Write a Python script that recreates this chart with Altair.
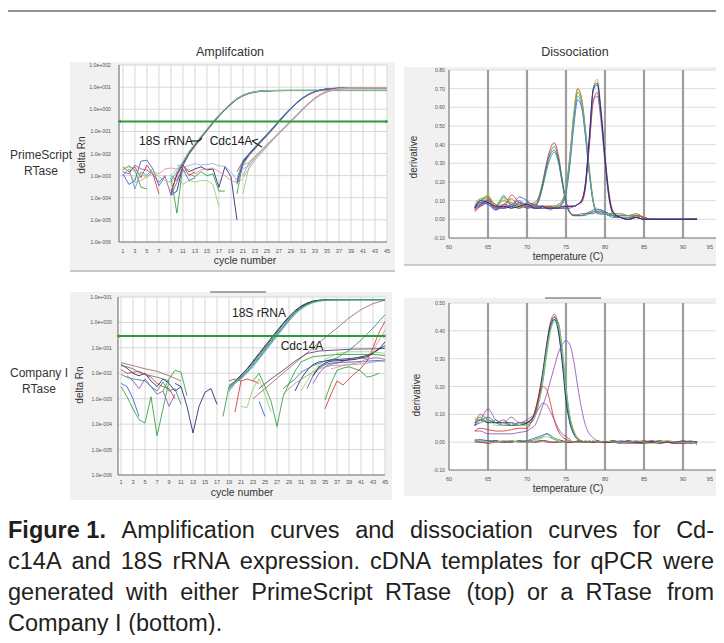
import altair as alt
import pandas as pd

OFF = 8
def px(v):
    return v - OFF

SANS = "Liberation Sans, Arial, sans-serif"

RED = "#d8322e"; GREEN = "#2e9e3e"; BLUE = "#3a5bd0"; NAVY = "#1f2470"; PURPLE = "#8d52b5"
CYAN = "#36aac6"; LGREEN = "#93d06c"; GRAY = "#9c9c9c"; PINK = "#e68f8f"; LBLUE = "#8fb2e8"
LAV = "#b79dd8"; TEAL = "#2f8a86"; OLIVE = "#b5ad36"; BROWN = "#9c6b5c"; BLACK = "#202020"
DPURPLE = "#5b3a78"; DGRAY = "#6b6b7a"; THR = "#2f9a3c"

# ---------------- amplification, PrimeScript (top) ----------------
AMP_XTICKS = list(range(1, 46, 2))
TOP_YTICKS = [1e2, 1e1, 1e0, 1e-1, 1e-2, 1e-3, 1e-4, 1e-5, 1e-6]
TOP_YLABELS = ["1.0e+002", "1.0e+001", "1.0e+000", "1.0e-001", "1.0e-002",
               "1.0e-003", "1.0e-004", "1.0e-005", "1.0e-006"]
TOP_THRESHOLD = 0.28

CYC_18S_TOP = [9, 10, 11, 12, 13, 14, 15, 16, 17, 18, 19, 20, 21, 22, 23, 24, 26, 28, 32, 36, 40, 45]
TOP_18S = [
    ("s1", NAVY,   [1.5e-4, 1.2e-3, 3.6e-3, 1.1e-2, 2.5e-2, 5.5e-2, 0.12, 0.26, 0.52, 1.0, 1.8, 3.0, 4.3, 5.4, 6.2, 6.7, 7.0, 7.1, 7.1, 7.1, 7.1, 7.1]),
    ("s2", RED,    [2e-4, 1e-3, 3.2e-3, 1.0e-2, 2.3e-2, 5.2e-2, 0.115, 0.25, 0.5, 0.97, 1.75, 2.9, 4.2, 5.3, 6.1, 6.6, 6.9, 7.0, 7.0, 7.0, 7.0, 7.0]),
    ("s3", GREEN,  [8e-4, 2e-5, 3e-3, 9.5e-3, 2.2e-2, 5e-2, 0.11, 0.24, 0.49, 0.95, 1.7, 2.85, 4.1, 5.2, 6.0, 6.5, 6.9, 7.0, 7.1, 7.1, 7.1, 7.1]),
    ("s4", PURPLE, [1.3e-4, 5e-4, 2.8e-3, 9e-3, 2.1e-2, 4.8e-2, 0.105, 0.23, 0.47, 0.92, 1.65, 2.8, 4.0, 5.1, 5.9, 6.5, 6.9, 7.0, 7.0, 7.0, 7.0, 7.0]),
    ("s5", CYAN,   [6e-4, 1.5e-3, 4e-3, 1.2e-2, 2.7e-2, 5.8e-2, 0.125, 0.27, 0.54, 1.03, 1.85, 3.05, 4.35, 5.45, 6.25, 6.75, 7.1, 7.2, 7.2, 7.2, 7.2, 7.2]),
    ("s6", LGREEN, [1e-3, 2e-3, 4.5e-3, 1.25e-2, 2.8e-2, 6e-2, 0.13, 0.28, 0.56, 1.06, 1.9, 3.1, 4.4, 5.5, 6.3, 6.8, 7.1, 7.2, 7.2, 7.2, 7.2, 7.2]),
]

CYC_CDC_TOP_A = [20, 21, 22, 23, 24, 25, 26, 27, 28, 29, 30, 31, 32, 33, 34, 35, 37, 40, 45]
TOP_CDC_A = [
    ("ca1", RED,    [1.5e-3, 4.5e-3, 9e-3, 1.8e-2, 3.6e-2, 7e-2, 0.14, 0.29, 0.58, 1.1, 2.0, 3.3, 4.8, 6.3, 7.5, 8.3, 9.0, 9.2, 9.3]),
    ("ca2", GREEN,  [1.5e-4, 3.8e-3, 8.5e-3, 1.7e-2, 3.4e-2, 6.6e-2, 0.13, 0.27, 0.55, 1.05, 1.95, 3.2, 4.7, 6.2, 7.4, 8.2, 8.9, 9.1, 9.2]),
    ("ca3", NAVY,   [5e-4, 4e-3, 9.5e-3, 1.9e-2, 3.8e-2, 7.3e-2, 0.145, 0.3, 0.6, 1.13, 2.05, 3.35, 4.85, 6.35, 7.5, 8.3, 9.0, 9.1, 9.2]),
    ("ca4", CYAN,   [7e-4, 5e-3, 1e-2, 2e-2, 4e-2, 7.6e-2, 0.15, 0.31, 0.62, 1.16, 2.1, 3.4, 4.9, 6.4, 7.6, 8.4, 9.2, 9.4, 9.6]),
    ("ca5", PURPLE, [4e-4, 3e-3, 8e-3, 1.6e-2, 3.2e-2, 6.3e-2, 0.125, 0.26, 0.53, 1.02, 1.9, 3.15, 4.6, 6.1, 7.3, 8.1, 8.9, 9.0, 9.1]),
]

CYC_CDC_TOP_B = [21, 22, 23, 24, 25, 26, 27, 28, 29, 30, 31, 32, 33, 34, 35, 36, 37, 38, 40, 45]
TOP_CDC_B = [
    ("cb1", GRAY,   [1e-3, 3.8e-3, 7e-3, 1.3e-2, 2.5e-2, 4.6e-2, 8.5e-2, 0.16, 0.3, 0.56, 1.05, 1.9, 3.2, 4.8, 6.3, 7.5, 8.3, 8.8, 9.2, 9.4]),
    ("cb2", LBLUE,  [2e-3, 3e-3, 6e-3, 1.1e-2, 2.2e-2, 4.2e-2, 8e-2, 0.15, 0.28, 0.53, 1.0, 1.8, 3.1, 4.6, 6.1, 7.3, 8.2, 8.7, 9.1, 9.3]),
    ("cb3", LGREEN, [1.5e-4, 2.5e-3, 6.5e-3, 1.2e-2, 2.4e-2, 4.5e-2, 8.4e-2, 0.16, 0.3, 0.57, 1.07, 1.95, 3.3, 4.9, 6.4, 7.6, 8.4, 8.9, 9.3, 9.6]),
    ("cb4", LAV,    [8e-4, 2e-3, 5e-3, 1e-2, 2e-2, 4e-2, 7.5e-2, 0.14, 0.27, 0.5, 0.95, 1.75, 3.0, 4.5, 6.0, 7.2, 8.1, 8.6, 9.0, 9.2]),
    ("cb5", PINK,   [3e-3, 4e-3, 7.5e-3, 1.4e-2, 2.6e-2, 4.8e-2, 8.8e-2, 0.165, 0.31, 0.58, 1.08, 1.95, 3.3, 4.9, 6.4, 7.6, 8.4, 8.9, 9.2, 9.3]),
]

TOP_NOISE = [
    ("n1", BLUE,   [1, 2, 3, 4, 5, 6, 7, 8], [1.2e-3, 4e-4, 6e-4, 4.5e-3, 5e-3, 2e-3, 3.5e-4, 9e-4]),
    ("n2", RED,    [1, 2, 3, 4, 5, 6, 7], [2.5e-3, 1.5e-3, 2.5e-3, 8e-4, 3e-3, 1.2e-3, 1.5e-4]),
    ("n3", GREEN,  [1, 2, 3, 4, 5], [1.8e-3, 2.8e-3, 1.8e-3, 3e-4, 2.5e-4]),
    ("n4", CYAN,   [1, 2, 3, 4, 5, 6], [1e-3, 2e-3, 2.5e-4, 1.5e-3, 1e-3, 2.2e-3]),
    ("n5", PURPLE, [1, 2, 3, 4, 5, 6, 7, 8, 9], [1.5e-3, 1.2e-3, 3e-3, 2e-3, 1.8e-3, 1.1e-3, 5e-4, 1e-3, 1.3e-4]),
    ("n6", PINK,   [2, 3, 4, 5, 6, 7, 8, 9, 10, 11], [1.6e-3, 5e-4, 6e-4, 9e-4, 1.5e-3, 1.2e-3, 2e-3, 2.2e-3, 2e-3, 2.5e-3]),
    ("n7", LGREEN, [1, 2, 3, 4, 5, 6, 7, 8, 9, 10, 11, 12, 13, 14, 15, 16, 17],
     [2e-3, 2.5e-3, 1.5e-3, 1.2e-3, 8e-4, 1.4e-3, 9e-4, 6e-4, 5e-4, 1e-3, 4e-4, 6e-4, 5e-4, 6e-4, 6e-4, 4e-4, 4e-5]),
    ("n8", NAVY,   [9, 10, 11, 12, 13, 14, 15, 16, 17, 18, 19, 20],
     [1.3e-4, 2e-4, 3e-3, 1.5e-3, 2e-3, 2.5e-3, 1.8e-3, 2e-3, 3e-4, 2.5e-3, 9e-4, 1e-5]),
    ("n9", LBLUE,  [10, 11, 12, 13, 14, 15, 16, 17, 18, 19, 20],
     [3e-3, 2.5e-3, 2.8e-3, 3.5e-3, 3e-3, 3.2e-3, 3.5e-3, 2.8e-3, 2.6e-3, 1.5e-3, 6e-4]),
    ("n10", GREEN, [12, 13, 14, 15, 16, 17, 18], [1.2e-3, 9e-4, 1.5e-3, 1e-3, 1.2e-3, 2e-4, 2e-4]),
    ("n11", PINK,  [11, 12, 13, 14, 15, 16, 17, 18, 19, 20, 21],
     [1.5e-3, 2e-3, 1.2e-3, 1.8e-3, 2e-3, 2.2e-3, 1.5e-3, 1e-3, 6e-4, 5e-4, 7e-4]),
    ("n12", BLUE,  [9, 10, 11, 12, 13], [1e-3, 6e-4, 2e-3, 6e-4, 8e-4]),
    ("n13", RED,   [11, 12, 13], [3e-3, 1e-3, 1.5e-3]),
]

# ---------------- amplification, Company I (bottom) ----------------
BOT_YTICKS = [1e1, 1e0, 1e-1, 1e-2, 1e-3, 1e-4, 1e-5, 1e-6]
BOT_YLABELS = ["1.0e+001", "1.0e+000", "1.0e-001", "1.0e-002", "1.0e-003", "1.0e-004", "1.0e-005", "1.0e-006"]
BOT_THRESHOLD = 0.29

CYC_18S_BOT = [19, 20, 21, 22, 23, 24, 25, 26, 27, 28, 29, 30, 31, 32, 33, 34, 36, 40, 45]
BOT_18S = [
    ("b1", BLACK, [2.5e-3, 4.5e-3, 8e-3, 1.5e-2, 3e-2, 6e-2, 0.12, 0.24, 0.47, 0.92, 1.7, 2.9, 4.4, 5.8, 6.9, 7.5, 7.8, 7.9, 7.9]),
    ("b2", NAVY,  [3e-3, 5e-3, 8.5e-3, 1.4e-2, 2.7e-2, 5.3e-2, 0.105, 0.21, 0.42, 0.83, 1.55, 2.7, 4.1, 5.5, 6.7, 7.4, 7.8, 7.9, 7.9]),
    ("b3", TEAL,  [2e-3, 4e-3, 6.5e-3, 1.1e-2, 2.1e-2, 4.1e-2, 8.2e-2, 0.165, 0.33, 0.65, 1.25, 2.3, 3.6, 5.0, 6.3, 7.1, 7.7, 7.8, 7.8]),
    ("b4", CYAN,  [3.5e-3, 4.5e-3, 6e-3, 1e-2, 1.9e-2, 3.7e-2, 7.4e-2, 0.15, 0.3, 0.6, 1.15, 2.15, 3.4, 4.8, 6.1, 7.0, 7.6, 7.8, 7.8]),
    ("b5", LBLUE, [2.8e-3, 5e-3, 7e-3, 1.05e-2, 1.8e-2, 3.5e-2, 7e-2, 0.14, 0.28, 0.56, 1.1, 2.05, 3.3, 4.7, 6.0, 6.9, 7.6, 7.8, 7.8]),
]
BOT_18S_EXTRA = [
    ("b6", GREEN, [18, 19, 20, 21, 22, 23, 24, 25, 26, 27, 28, 29, 30, 31, 32, 33, 34, 36, 40, 45],
     [2e-4, 3e-3, 5e-3, 7e-3, 1.2e-2, 2.3e-2, 4.5e-2, 9e-2, 0.18, 0.36, 0.7, 1.35, 2.45, 3.8, 5.2, 6.4, 7.2, 7.7, 7.8, 7.8]),
]

BOT_CDC = [
    ("d1", BROWN,   [23, 25, 27, 29, 31, 33, 35, 37, 39, 41, 43, 45], [1e-3, 2.5e-3, 6.3e-3, 1.6e-2, 4e-2, 0.1, 0.25, 0.6, 1.5, 3.2, 5.5, 7.5]),
    ("d2", DPURPLE, [24, 26, 28, 30, 32, 34, 36, 38, 40, 42, 45], [2.5e-3, 6e-3, 1.3e-2, 3e-2, 6e-2, 7.5e-2, 8e-2, 8.5e-2, 9e-2, 9e-2, 9.5e-2]),
    ("d3", TEAL,    [28, 30, 31, 33, 35, 37, 39, 41, 43, 45], [2.5e-3, 6e-3, 1.1e-2, 2e-2, 3e-2, 4e-2, 8e-2, 0.2, 0.6, 2.0]),
    ("d4", RED,     [35, 36, 37, 38, 39, 40, 41, 42, 43, 44, 45], [4e-4, 1.5e-3, 5e-3, 3.5e-3, 6e-3, 1e-2, 1.6e-2, 3e-2, 0.1, 0.4, 1.1]),
    ("d5", GREEN,   [35, 36, 37, 38, 39, 40, 41, 42, 43, 44], [9e-4, 4e-3, 1.3e-2, 1.6e-2, 1.8e-2, 1.5e-2, 1.2e-2, 7e-3, 8e-3, 1e-2]),
    ("d6", GREEN,   [23, 24, 25, 26, 27, 28, 29, 30, 31, 33, 35, 37, 39, 41, 43, 45],
     [5e-3, 1e-2, 3e-3, 8e-4, 8e-5, 1.2e-3, 4e-3, 1.2e-2, 2.8e-2, 4.5e-2, 5e-2, 5.5e-2, 5.5e-2, 5.5e-2, 5.5e-2, 5e-2]),
    ("d7", NAVY,    [30, 31, 32, 33, 34, 35, 36, 37, 38, 40, 42, 45], [2e-3, 6e-3, 1.3e-2, 2.2e-2, 2.8e-2, 3e-2, 3.3e-2, 3.5e-2, 3.6e-2, 4e-2, 5e-2, 0.12]),
    ("d8", BLUE,    [32, 33, 34, 35, 36, 37, 38, 40, 42, 44, 45], [2.5e-3, 8e-3, 1.6e-2, 2.2e-2, 2.5e-2, 2.6e-2, 2.7e-2, 2.8e-2, 3e-2, 3.2e-2, 3e-2]),
    ("d9", PURPLE,  [33, 34, 35, 36, 37, 38, 39, 40, 41, 42, 43, 44, 45],
     [4e-3, 1e-2, 1.8e-2, 2.3e-2, 2.5e-2, 3e-2, 3.5e-2, 4e-2, 4.2e-2, 3.5e-2, 4e-2, 4e-2, 3.5e-2]),
    ("d10", GRAY,   [28, 30, 32, 34, 36, 38, 40, 42, 44, 45], [1.5e-3, 4e-3, 8e-3, 1.5e-2, 2e-2, 2.1e-2, 2.2e-2, 2.5e-2, 3e-2, 3e-2]),
    ("d11", PINK,   [36, 37, 38, 39, 40, 41, 42, 43, 44, 45], [1.5e-2, 1.7e-2, 2e-2, 2.2e-2, 2.5e-2, 2.7e-2, 4e-2, 8e-2, 0.2, 0.5]),
    ("d12", BLACK,  [33, 34, 35, 36, 38, 40, 42, 43, 44, 45], [8e-3, 1.8e-2, 2.5e-2, 3e-2, 3.2e-2, 3.5e-2, 4.5e-2, 6e-2, 9e-2, 0.17]),
    ("d13", LGREEN, [31, 33, 35, 37, 39, 41, 43, 45], [2e-3, 1.2e-2, 3.5e-2, 6e-2, 7e-2, 7e-2, 7e-2, 6e-2]),
]

BOT_NOISE = [
    ("e1", BROWN,  [1, 3, 5, 7, 9, 11], [2.6e-2, 2e-2, 1.5e-2, 1.2e-2, 8e-3, 5e-3]),
    ("e2", NAVY,   [1, 2, 3, 4, 5, 6, 7, 8, 9, 10, 11], [2.2e-2, 1.6e-2, 1e-2, 8e-3, 1e-2, 5e-3, 3e-3, 6e-3, 4e-3, 2e-3, 3e-3]),
    ("e3", RED,    [1, 2, 3, 4, 5, 6, 7, 8, 9, 10], [1.4e-2, 1e-2, 1.1e-2, 1.2e-2, 9e-3, 7e-3, 4e-3, 3e-3, 2.5e-3, 1e-3]),
    ("e4", GREEN,  [1, 2, 3, 4, 5, 6, 7, 8, 9], [3e-3, 1.2e-3, 4e-4, 1.5e-4, 1.1e-4, 1.2e-3, 3.5e-5, 4e-4, 5e-3]),
    ("e5", BLUE,   [1, 2, 3, 4], [4e-3, 3e-3, 1e-3, 2e-4]),
    ("e6", PURPLE, [2, 3, 4, 5, 6, 7, 8, 9, 10], [8e-3, 5e-3, 2.5e-3, 6e-3, 3e-3, 1.5e-3, 2e-3, 5e-4, 1.5e-3]),
    ("e7", TEAL,   [1, 2, 3, 4, 5, 6, 7, 8, 9, 10, 11], [9e-3, 7e-3, 6e-3, 5.5e-3, 5e-3, 3e-3, 2e-3, 4.5e-3, 2e-3, 2.5e-3, 6e-4]),
    ("e8", NAVY,   [10, 11, 12, 13, 14, 15, 16, 17], [4e-3, 3e-3, 5e-4, 4.5e-5, 5e-4, 1.8e-3, 2.5e-3, 6e-4]),
    ("e9", RED,    [19, 20, 21, 22, 23, 24], [5e-3, 6e-3, 5e-3, 6e-3, 5e-3, 4e-3]),
    ("e10", RED,   [20, 21], [3e-4, 5e-3]),
    ("e11", LGREEN, [21, 22, 23, 24, 25, 26], [5e-4, 4.5e-4, 2.5e-3, 6e-3, 1.5e-3, 3e-4]),
    ("e12", BLUE,  [24, 25], [8e-4, 2e-4]),
    ("e13", GREEN, [8, 9, 10, 11, 12], [2e-3, 6e-3, 1.3e-2, 1.1e-2, 1.3e-3]),
    ("e14", DGRAY, [1, 2, 3, 4, 5, 6, 7, 8, 9], [2e-2, 1.8e-2, 1.5e-2, 1.1e-2, 9e-3, 8e-3, 7e-3, 6e-3, 5e-3]),
]

# ---------------- dissociation, PrimeScript (top) ----------------
DIS_XTICKS = [60, 65, 70, 75, 80, 85, 90, 95]
DIS_VGRID = [65, 70, 75, 80, 85, 90]
TOPD_YTICKS = [-0.1, 0.0, 0.1, 0.2, 0.3, 0.4, 0.5, 0.6, 0.7, 0.8]
TOPD_YLABELS = ["-0.10", "0.00", "0.10", "0.20", "0.30", "0.40", "0.50", "0.60", "0.70", "0.80"]
T_TOP = [63.3, 64, 65, 66, 67, 68, 69, 70, 71,
         71.5, 72, 72.5, 73, 73.5, 74, 74.5, 75, 75.5, 76, 76.5, 77, 77.5, 78, 78.5, 79, 79.5, 80, 80.5, 81,
         82, 83, 84, 85, 86, 88, 90, 91.8]
TOPD = [
    ("a1", RED,   [0.05, 0.08, 0.10, 0.06, 0.08, 0.11, 0.07, 0.08, 0.09,
                   0.12, 0.20, 0.30, 0.38, 0.41, 0.35, 0.22, 0.10, 0.04, 0.025, 0.025, 0.03, 0.03, 0.035, 0.04, 0.04, 0.04, 0.035, 0.03, 0.02,
                   0.01, 0.01, 0.02, 0.01, 0.0, 0.0, 0.0, 0.005]),
    ("a2", GREEN, [0.07, 0.10, 0.12, 0.07, 0.12, 0.08, 0.06, 0.09, 0.08,
                   0.11, 0.19, 0.29, 0.36, 0.39, 0.33, 0.21, 0.09, 0.035, 0.02, 0.02, 0.02, 0.03, 0.03, 0.04, 0.05, 0.05, 0.04, 0.03, 0.02,
                   0.01, 0.01, 0.02, 0.01, 0.0, 0.0, 0.0, 0.0]),
    ("a3", BLUE,  [0.06, 0.09, 0.08, 0.05, 0.07, 0.07, 0.12, 0.10, 0.07,
                   0.10, 0.18, 0.28, 0.35, 0.37, 0.32, 0.20, 0.09, 0.035, 0.02, 0.02, 0.02, 0.03, 0.04, 0.05, 0.055, 0.05, 0.04, 0.03, 0.02,
                   0.01, 0.0, 0.01, 0.0, 0.0, 0.0, 0.0, 0.0]),
    ("a4", TEAL,  [0.08, 0.07, 0.09, 0.06, 0.06, 0.07, 0.09, 0.06, 0.07,
                   0.10, 0.17, 0.26, 0.33, 0.36, 0.31, 0.20, 0.09, 0.035, 0.02, 0.02, 0.02, 0.02, 0.03, 0.03, 0.04, 0.04, 0.03, 0.02, 0.01,
                   0.01, 0.01, 0.01, 0.0, 0.0, 0.0, 0.0, 0.0]),
    ("b1", RED,   [0.04, 0.07, 0.11, 0.07, 0.06, 0.13, 0.09, 0.07, 0.08,
                   0.07, 0.07, 0.07, 0.07, 0.07, 0.08, 0.10, 0.17, 0.34, 0.56, 0.70, 0.65, 0.48, 0.27, 0.10, 0.04, 0.03, 0.03, 0.03, 0.03,
                   0.03, 0.02, 0.02, 0.01, 0.0, 0.0, 0.0, 0.005]),
    ("b2", GREEN, [0.07, 0.09, 0.12, 0.07, 0.10, 0.08, 0.07, 0.08, 0.07,
                   0.07, 0.06, 0.06, 0.07, 0.07, 0.07, 0.09, 0.16, 0.32, 0.54, 0.68, 0.63, 0.46, 0.25, 0.09, 0.04, 0.03, 0.03, 0.03, 0.02,
                   0.02, 0.02, 0.03, 0.01, 0.0, 0.0, 0.0, 0.0]),
    ("b3", BLUE,  [0.06, 0.08, 0.10, 0.08, 0.06, 0.07, 0.08, 0.06, 0.07,
                   0.07, 0.07, 0.06, 0.06, 0.06, 0.07, 0.08, 0.14, 0.29, 0.50, 0.64, 0.60, 0.44, 0.24, 0.09, 0.03, 0.03, 0.03, 0.02, 0.02,
                   0.02, 0.02, 0.02, 0.01, 0.0, 0.0, 0.0, 0.0]),
    ("b4", OLIVE, [0.07, 0.10, 0.13, 0.06, 0.11, 0.09, 0.06, 0.08, 0.07,
                   0.07, 0.07, 0.07, 0.06, 0.07, 0.08, 0.10, 0.17, 0.34, 0.57, 0.70, 0.64, 0.47, 0.26, 0.10, 0.04, 0.03, 0.03, 0.03, 0.03,
                   0.03, 0.02, 0.03, 0.01, 0.0, 0.0, 0.0, 0.0]),
    ("b5", CYAN,  [0.06, 0.11, 0.09, 0.06, 0.13, 0.07, 0.08, 0.07, 0.06,
                   0.06, 0.06, 0.06, 0.06, 0.06, 0.07, 0.09, 0.15, 0.31, 0.52, 0.66, 0.61, 0.45, 0.25, 0.09, 0.04, 0.03, 0.03, 0.02, 0.02,
                   0.02, 0.02, 0.02, 0.01, 0.0, 0.0, 0.0, 0.0]),
    ("c1", OLIVE, [0.09, 0.11, 0.12, 0.08, 0.12, 0.09, 0.08, 0.07, 0.07,
                   0.06, 0.07, 0.07, 0.07, 0.07, 0.07, 0.07, 0.07, 0.07, 0.07, 0.08, 0.10, 0.19, 0.43, 0.70, 0.75, 0.59, 0.35, 0.15, 0.05,
                   0.01, 0.01, 0.02, 0.01, 0.0, 0.0, 0.0, 0.0]),
    ("c2", RED,   [0.05, 0.07, 0.09, 0.06, 0.08, 0.07, 0.06, 0.07, 0.06,
                   0.06, 0.06, 0.07, 0.07, 0.06, 0.06, 0.06, 0.07, 0.07, 0.07, 0.08, 0.09, 0.17, 0.40, 0.63, 0.68, 0.55, 0.33, 0.14, 0.04,
                   0.01, 0.0, 0.02, 0.01, 0.0, 0.0, 0.0, 0.0]),
    ("c3", BLUE,  [0.06, 0.08, 0.09, 0.05, 0.07, 0.06, 0.09, 0.08, 0.07,
                   0.07, 0.07, 0.06, 0.06, 0.06, 0.06, 0.06, 0.06, 0.06, 0.07, 0.08, 0.10, 0.20, 0.45, 0.69, 0.72, 0.56, 0.32, 0.12, 0.03,
                   0.01, 0.0, 0.01, 0.0, 0.0, 0.0, 0.0, 0.0]),
    ("c4", PURPLE, [0.07, 0.09, 0.08, 0.06, 0.06, 0.08, 0.10, 0.07, 0.06,
                    0.06, 0.06, 0.06, 0.05, 0.06, 0.06, 0.06, 0.06, 0.07, 0.07, 0.08, 0.10, 0.18, 0.41, 0.64, 0.66, 0.52, 0.30, 0.12, 0.04,
                    0.01, 0.0, 0.01, 0.0, 0.0, 0.0, 0.0, 0.0]),
    ("c5", NAVY,  [0.06, 0.10, 0.09, 0.07, 0.07, 0.06, 0.07, 0.08, 0.06,
                   0.06, 0.07, 0.06, 0.06, 0.06, 0.06, 0.07, 0.07, 0.07, 0.07, 0.08, 0.10, 0.19, 0.44, 0.70, 0.73, 0.57, 0.33, 0.13, 0.04,
                   0.01, 0.0, 0.01, 0.0, 0.0, 0.0, 0.0, 0.0]),
]

# ---------------- dissociation, Company I (bottom) ----------------
BOTD_YTICKS = [-0.1, 0.0, 0.1, 0.2, 0.3, 0.4, 0.5]
BOTD_YLABELS = ["-0.10", "0.00", "0.10", "0.20", "0.30", "0.40", "0.50"]
T_BOT = [63.3, 64, 65, 66, 67, 68, 69, 70,
         70.5, 71, 71.5, 72, 72.5, 73, 73.5, 74, 74.5, 75, 75.5, 76, 76.5, 77, 77.5, 78, 78.5, 79,
         80, 81, 82, 83, 84, 85, 86, 87, 88, 89, 90, 91, 91.8]
BOTD = [
    ("m1", RED,   [0.06, 0.10, 0.08, 0.07, 0.08, 0.06, 0.07, 0.07,
                   0.08, 0.11, 0.17, 0.25, 0.35, 0.43, 0.46, 0.42, 0.31, 0.18, 0.09, 0.04, 0.015, 0.005, 0.0, 0.0, 0.0, 0.0,
                   0.0, 0.0, 0.0, 0.005, 0.0, -0.005, 0.0, 0.0, 0.005, 0.0, -0.005, 0.0, 0.0]),
    ("m2", BLUE,  [0.06, 0.07, 0.08, 0.07, 0.07, 0.06, 0.06, 0.07,
                   0.08, 0.10, 0.16, 0.24, 0.34, 0.42, 0.45, 0.41, 0.30, 0.16, 0.07, 0.03, 0.01, 0.0, 0.0, 0.0, 0.0, 0.0,
                   0.0, 0.0, -0.005, 0.0, 0.0, 0.0, 0.005, 0.0, 0.0, 0.0, 0.0, -0.005, 0.0]),
    ("m3", GREEN, [0.07, 0.09, 0.07, 0.08, 0.06, 0.07, 0.06, 0.07,
                   0.07, 0.09, 0.14, 0.21, 0.31, 0.40, 0.44, 0.43, 0.34, 0.20, 0.09, 0.035, 0.01, 0.0, 0.0, 0.0, 0.0, 0.0,
                   0.0, 0.0, 0.0, 0.0, 0.005, 0.0, 0.0, 0.0, 0.0, 0.0, 0.0, 0.0, -0.005]),
    ("m4", NAVY,  [0.06, 0.08, 0.07, 0.07, 0.07, 0.07, 0.06, 0.07,
                   0.08, 0.10, 0.16, 0.24, 0.34, 0.42, 0.44, 0.40, 0.29, 0.15, 0.07, 0.03, 0.01, 0.0, 0.0, 0.0, 0.0, 0.0,
                   0.0, 0.005, 0.0, 0.0, 0.0, 0.0, 0.0, 0.005, 0.0, 0.0, 0.0, 0.0, 0.0]),
    ("m5", TEAL,  [0.08, 0.08, 0.09, 0.07, 0.06, 0.06, 0.07, 0.06,
                   0.07, 0.10, 0.15, 0.23, 0.33, 0.41, 0.45, 0.42, 0.32, 0.18, 0.08, 0.03, 0.01, 0.0, 0.0, 0.0, 0.0, 0.0,
                   0.0, 0.0, 0.0, 0.0, 0.0, 0.005, 0.0, 0.0, 0.0, -0.005, 0.0, 0.0, 0.0]),
    ("m6", LGREEN, [0.09, 0.07, 0.08, 0.06, 0.06, 0.07, 0.06, 0.06,
                    0.07, 0.09, 0.14, 0.22, 0.32, 0.40, 0.43, 0.42, 0.33, 0.19, 0.09, 0.04, 0.01, 0.0, 0.0, 0.0, 0.0, 0.0,
                    0.0, 0.0, 0.0, 0.005, 0.0, 0.0, 0.0, 0.0, 0.0, 0.0, 0.005, 0.0, 0.0]),
    ("p1", PURPLE, [0.04, 0.04, 0.03, 0.03, 0.03, 0.03, 0.035, 0.04,
                    0.05, 0.06, 0.09, 0.13, 0.17, 0.22, 0.27, 0.32, 0.35, 0.365, 0.35, 0.29, 0.20, 0.12, 0.06, 0.03, 0.015, 0.005,
                    0.0, 0.0, 0.0, 0.0, 0.0, 0.0, 0.0, 0.0, 0.0, 0.0, 0.0, 0.0, 0.0]),
    ("p2", PURPLE, [0.07, 0.08, 0.12, 0.08, 0.07, 0.09, 0.07, 0.08,
                    0.09, 0.10, 0.12, 0.14, 0.135, 0.11, 0.08, 0.05, 0.03, 0.02, 0.01, 0.0, 0.0, 0.0, 0.0, 0.0, 0.0, 0.0,
                    0.0, 0.0, 0.0, 0.0, 0.0, 0.0, 0.0, 0.0, 0.0, 0.0, 0.0, 0.0, 0.0]),
    ("r2", RED,   [0.04, 0.05, 0.045, 0.04, 0.04, 0.045, 0.05, 0.05,
                   0.07, 0.11, 0.16, 0.20, 0.19, 0.14, 0.08, 0.04, 0.02, 0.01, 0.005, 0.0, 0.0, 0.0, 0.0, 0.0, 0.0, 0.0,
                   0.0, 0.0, 0.0, 0.0, 0.0, 0.0, 0.0, 0.0, 0.0, 0.0, 0.0, 0.0, 0.0]),
    ("f1", GREEN, [0.01, 0.005, 0.005, 0.0, 0.005, 0.0, 0.005, 0.005,
                   0.005, 0.01, 0.015, 0.02, 0.03, 0.025, 0.015, 0.01, 0.005, 0.0, 0.0, 0.0, 0.0, 0.005, 0.0, 0.0, 0.005, 0.0,
                   0.0, 0.005, 0.0, 0.0, 0.0, -0.005, 0.0, 0.005, 0.0, -0.005, 0.0, 0.005, -0.01]),
    ("f2", BLUE,  [0.005, 0.01, 0.005, 0.005, 0.0, 0.005, 0.0, 0.005,
                   0.01, 0.015, 0.02, 0.025, 0.03, 0.02, 0.01, 0.005, 0.0, 0.0, 0.0, 0.0, 0.0, 0.0, 0.0, 0.005, 0.0, 0.0,
                   0.0, 0.0, 0.005, 0.0, -0.005, 0.0, 0.005, 0.0, 0.0, -0.005, 0.0, 0.0, 0.0]),
    ("f3", NAVY,  [0.005, 0.0, 0.0, 0.005, 0.0, 0.0, 0.005, 0.0,
                   0.0, 0.0, 0.005, 0.005, 0.005, 0.0, 0.0, 0.0, 0.005, 0.0, 0.0, 0.0, 0.005, 0.0, 0.0, 0.0, 0.0, 0.005,
                   0.0, 0.0, 0.0, 0.005, 0.0, 0.0, 0.0, -0.005, 0.0, 0.0, 0.005, 0.0, 0.0]),
    ("f4", RED,   [0.0, 0.0, -0.005, 0.0, 0.0, 0.005, 0.0, 0.0,
                   0.005, 0.0, 0.0, 0.005, 0.0, 0.0, 0.0, 0.0, 0.0, 0.005, 0.0, 0.0, 0.0, 0.0, 0.005, 0.0, 0.0, 0.0,
                   0.0, 0.005, 0.0, -0.005, 0.0, 0.005, 0.0, 0.0, 0.0, 0.0, -0.005, 0.0, 0.0]),
    ("f5", LGREEN, [0.005, 0.005, 0.0, 0.0, 0.005, 0.005, 0.0, 0.0,
                    0.0, 0.005, 0.01, 0.015, 0.02, 0.015, 0.01, 0.005, 0.0, 0.0, 0.005, 0.0, 0.0, 0.0, 0.0, 0.0, 0.005, 0.0,
                    0.005, 0.0, 0.0, 0.0, 0.005, 0.0, -0.005, 0.0, 0.005, 0.0, 0.0, 0.0, -0.005]),
]

CAPTION_BOLD = "Figure 1."
CAPTION_L1 = "Amplification curves and dissociation curves for Cd-"
CAPTION_L2 = "c14A and 18S rRNA expression. cDNA templates for qPCR were"
CAPTION_L3 = "generated with either PrimeScript RTase (top) or a RTase from"
CAPTION_L4 = "Company I (bottom)."

# Arial / Liberation Sans advance widths (per 1000 em), used only to justify the caption
ARIAL_W = {' ': 278, '(': 333, ')': 333, ',': 278, '-': 333, '.': 278, ':': 278,
           'A': 667, 'B': 667, 'C': 722, 'D': 722, 'E': 667, 'F': 611, 'G': 778, 'H': 722, 'I': 278,
           'J': 500, 'K': 667, 'L': 556, 'M': 833, 'N': 722, 'O': 778, 'P': 667, 'Q': 778, 'R': 722,
           'S': 667, 'T': 611, 'U': 722, 'V': 667, 'W': 944, 'X': 667, 'Y': 667, 'Z': 611,
           'a': 556, 'b': 556, 'c': 500, 'd': 556, 'e': 556, 'f': 278, 'g': 556, 'h': 556, 'i': 222,
           'j': 222, 'k': 500, 'l': 222, 'm': 833, 'n': 556, 'o': 556, 'p': 556, 'q': 556, 'r': 333,
           's': 500, 't': 278, 'u': 556, 'v': 500, 'w': 722, 'x': 500, 'y': 500, 'z': 500}
ARIAL_BOLD_W = {' ': 278, '.': 278, '1': 556, 'F': 611, 'i': 278, 'g': 611, 'u': 611, 'r': 389, 'e': 556}
for _d in "0123456789":
    ARIAL_W[_d] = 556


# ---------------- helpers ----------------
def dummy():
    return pd.DataFrame({"k": [0]})


def label(text, x, y, size=12, font=SANS, weight="normal", color="#333333", align="center", angle=0):
    return alt.Chart(dummy()).mark_text(
        text=text, font=font, fontSize=size, fontWeight=weight, color=color,
        align=align, baseline="middle", angle=angle,
    ).encode(x=alt.value(px(x)), y=alt.value(px(y)))


def box(x0, y0, x1, y1, fill):
    return alt.Chart(dummy()).mark_rect(fill=fill).encode(
        x=alt.value(px(x0)), x2=alt.value(px(x1)), y=alt.value(px(y0)), y2=alt.value(px(y1)))


def seg(x0, y0, x1, y1, color="#222222", w=1.0):
    return alt.Chart(dummy()).mark_rule(color=color, strokeWidth=w).encode(
        x=alt.value(px(x0)), x2=alt.value(px(x1)), y=alt.value(px(y0)), y2=alt.value(px(y1)))


def text_width(s, size, table):
    return sum(table.get(ch, 556) for ch in s) * size / 1000.0


def justified(tokens, x0, x1, y, size, bold_size):
    """tokens: list of (word, bold). Spread words so that the line fills x0..x1."""
    widths = [text_width(w, bold_size if b else size, ARIAL_BOLD_W if b else ARIAL_W) for w, b in tokens]
    gap = (x1 - x0 - sum(widths)) / max(1, len(tokens) - 1)
    out = []
    x = x0
    for (w, b), wd in zip(tokens, widths):
        out.append(label(w, x, y, bold_size if b else size, SANS, "bold" if b else "normal", "#231f20", "left"))
        x += wd + gap
    return out


def long_df(curves, shared_x=None):
    rows = []
    for c in curves:
        if shared_x is not None:
            name, color, vals = c
            xs = shared_x
        else:
            name, color, xs, vals = c
        for x, v in zip(xs, vals):
            rows.append({"x": x, "v": v, "curve": name, "color": color})
    return pd.DataFrame(rows)


def panel(kind, xdom, xr, ydom, yr, xticks, vgrid, yticks, ylabels, curve_df,
          ylab_x, xlab_y, threshold=None):
    xs = alt.Scale(domain=xdom, range=[px(xr[0]), px(xr[1])], nice=False, zero=False)
    if kind == "log":
        ys = alt.Scale(type="log", domain=ydom, range=[px(yr[0]), px(yr[1])], nice=False)
    else:
        ys = alt.Scale(domain=ydom, range=[px(yr[0]), px(yr[1])], nice=False, zero=False)

    def X(f):
        return alt.X(f, type="quantitative", scale=xs, axis=None)

    def Y(f):
        return alt.Y(f, type="quantitative", scale=ys, axis=None)

    layers = []
    frame = pd.DataFrame({"x0": [xdom[0]], "x1": [xdom[1]], "y0": [ydom[0]], "y1": [ydom[1]]})
    layers.append(alt.Chart(frame).mark_rect(fill="white").encode(x=X("x0"), x2="x1", y=Y("y0"), y2="y1"))

    hcol = "#d6d6d6" if kind == "log" else "#dcdcdc"
    layers.append(alt.Chart(pd.DataFrame({"v": yticks})).mark_rule(color=hcol, strokeWidth=1).encode(
        y=Y("v"), x=alt.value(px(xr[0])), x2=alt.value(px(xr[1]))))
    if kind == "log":
        layers.append(alt.Chart(pd.DataFrame({"c": vgrid})).mark_rule(color="#d6d6d6", strokeWidth=1).encode(
            x=X("c"), y=alt.value(px(yr[1])), y2=alt.value(px(yr[0]))))
    else:
        layers.append(alt.Chart(pd.DataFrame({"c": vgrid})).mark_rule(color="#9e9e9e", strokeWidth=2.2).encode(
            x=X("c"), y=alt.value(px(yr[1])), y2=alt.value(px(yr[0]))))

    layers.append(alt.Chart(curve_df).mark_line(
        strokeWidth=0.9, opacity=0.95, interpolate="monotone" if kind != "log" else "linear").encode(
        x=X("x"), y=Y("v"), detail="curve:N", color=alt.Color("color:N", scale=None)))

    if threshold is not None:
        layers.append(alt.Chart(pd.DataFrame({"v": [threshold]})).mark_rule(color=THR, strokeWidth=2).encode(
            y=Y("v"), x=alt.value(px(xr[0])), x2=alt.value(px(xr[1]))))
        arr = pd.DataFrame({"c": [xdom[0], xdom[1]], "v": [threshold, threshold],
                            "s": ["triangle-left", "triangle-right"]})
        layers.append(alt.Chart(arr).mark_point(filled=True, size=14, color=THR, opacity=1).encode(
            x=X("c"), y=Y("v"), shape=alt.Shape("s:N", scale=None)))

    layers.append(seg(xr[0], yr[1], xr[0], yr[0], "#7a7a7a", 1.2))
    layers.append(seg(xr[0], yr[0], xr[1], yr[0], "#7a7a7a", 1.2))

    layers.append(alt.Chart(pd.DataFrame({"v": yticks, "t": ylabels})).mark_text(
        align="right", baseline="middle", font=SANS, fontSize=5.2, color="#555555").encode(
        y=Y("v"), x=alt.value(px(ylab_x)), text="t:N"))
    inner = xticks[:-1] if kind != "log" else xticks
    layers.append(alt.Chart(pd.DataFrame({"c": inner})).mark_text(
        align="center", baseline="middle", font=SANS, fontSize=5.6, color="#555555").encode(
        x=X("c"), y=alt.value(px(xlab_y)), text="c:Q"))
    if kind != "log":
        # the last tick sits on the page edge: keep it inside, right-aligned
        layers.append(alt.Chart(pd.DataFrame({"c": xticks[-1:]})).mark_text(
            align="right", baseline="middle", font=SANS, fontSize=5.6, color="#555555", dx=-9).encode(
            x=X("c"), y=alt.value(px(xlab_y)), text="c:Q"))
    return alt.layer(*layers)


# ---------------- build ----------------
top_amp_df = pd.concat([
    long_df(TOP_NOISE),
    long_df(TOP_18S, CYC_18S_TOP),
    long_df(TOP_CDC_A, CYC_CDC_TOP_A),
    long_df(TOP_CDC_B, CYC_CDC_TOP_B),
], ignore_index=True)
bot_amp_df = pd.concat([
    long_df(BOT_NOISE),
    long_df(BOT_CDC),
    long_df(BOT_18S, CYC_18S_BOT),
    long_df(BOT_18S_EXTRA),
], ignore_index=True)
top_dis_df = long_df(TOPD, T_TOP)
bot_dis_df = long_df(BOTD, T_BOT)

decor = [
    box(70, 62, 395, 272, "#f1f1f1"),
    box(404, 67, 724, 265, "#f1f1f1"),
    box(70, 292, 392, 500, "#f1f1f1"),
    box(404, 298, 724, 496, "#f1f1f1"),
    seg(3, 11, 724, 11, "#6e6e6e", 1.5),
    seg(3, 11, 3, 643, "#6e6e6e", 1.5),
    seg(70, 271, 395, 271, "#8a8a8a", 0.8),
    seg(404, 265, 724, 265, "#8a8a8a", 0.8),
    seg(210, 292, 266, 292, "#555555", 1.2),
    seg(545, 298, 601, 298, "#555555", 1.2),
]

p_tl = panel("log", [0.35, 45], [119, 387], [1e-6, 1e2], [242, 65], AMP_XTICKS, AMP_XTICKS,
             TOP_YTICKS, TOP_YLABELS, top_amp_df, 111, 251, TOP_THRESHOLD)
p_bl = panel("log", [0.5, 45], [118, 385], [1e-6, 1e1], [475, 297], AMP_XTICKS, AMP_XTICKS,
             BOT_YTICKS, BOT_YLABELS, bot_amp_df, 112, 482, BOT_THRESHOLD)
p_tr = panel("lin", [60, 95], [449, 722], [-0.1, 0.8], [238, 70], DIS_XTICKS, DIS_VGRID,
             TOPD_YTICKS, TOPD_YLABELS, top_dis_df, 445, 247)
p_br = panel("lin", [60, 95], [449, 722], [-0.1, 0.5], [470, 303], DIS_XTICKS, DIS_VGRID,
             BOTD_YTICKS, BOTD_YLABELS, bot_dis_df, 445, 479)

texts = [
    label("Amplifcation", 230, 52, 12.5),
    label("Dissociation", 575, 52, 12.5),
    label("PrimeScript", 41, 155, 12),
    label("RTase", 41, 171, 12),
    label("Company I", 39, 373, 12),
    label("RTase", 39, 389, 12),
    label("cycle number", 245, 261, 10.5),
    label("cycle number", 242, 493, 10.5),
    label("delta Rn", 82, 155, 10, angle=270),
    label("delta Rn", 80, 385, 10, angle=270),
    label("derivative", 414, 157, 10, angle=270),
    label("derivative", 417, 395, 10, angle=270),
    label("temperature (C)", 568, 257, 10),
    label("temperature (C)", 568, 489, 10),
    label("18S rRNA", 166, 141, 12, color="#222222"),
    label("Cdc14A", 231, 141, 12, color="#222222"),
    seg(191, 141, 199, 141, "#222222", 1.2),
    seg(199, 141, 202, 138, "#222222", 1.2),
    seg(252, 141, 262, 147, "#222222", 1.2),
    seg(252, 141, 258, 139, "#222222", 1.2),
    label("18S rRNA", 259, 313, 12, color="#222222"),
    label("Cdc14A", 302, 346, 12, color="#222222"),
]

CAP_SIZE = 23.5
CAP_BOLD = 23.5
CAP_LEFT, CAP_RIGHT = 8, 714
caption = []
caption += justified([(CAPTION_BOLD, True)] + [(w, False) for w in CAPTION_L1.split(" ")],
                     CAP_LEFT, CAP_RIGHT, 531, CAP_SIZE, CAP_BOLD)
caption += justified([(w, False) for w in CAPTION_L2.split(" ")], CAP_LEFT, CAP_RIGHT, 562, CAP_SIZE, CAP_BOLD)
caption += justified([(w, False) for w in CAPTION_L3.split(" ")], CAP_LEFT, CAP_RIGHT, 593, CAP_SIZE, CAP_BOLD)
caption.append(label(CAPTION_L4, CAP_LEFT, 624, CAP_SIZE, SANS, "normal", "#231f20", "left"))

chart = alt.layer(*decor, p_tl, p_bl, p_tr, p_br, *texts, *caption).resolve_scale(
    x="independent", y="independent"
).properties(
    width=708, height=627, autosize=alt.AutoSizeParams(type="none"), padding=0
).configure(background="white").configure_view(stroke=None)

chart.save("out.html", embed_options={"renderer": "svg", "actions": False})
